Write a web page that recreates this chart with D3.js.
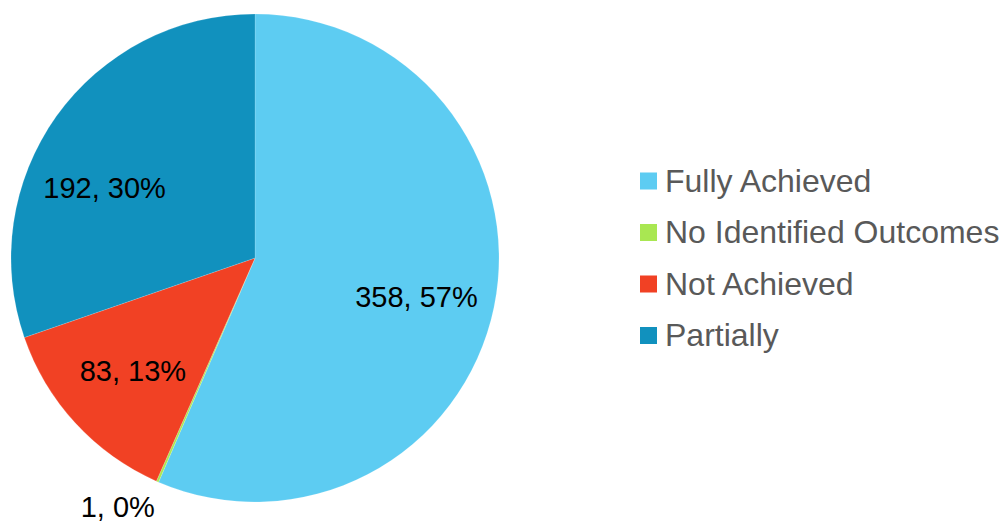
<!DOCTYPE html>
<html>
<head>
<meta charset="utf-8">
<script src="https://cdn.jsdelivr.net/npm/d3@7"></script>
<style>
  html, body { margin: 0; padding: 0; background: #fff; }
  svg { display: block; font-family: "Liberation Sans", Arial, sans-serif; }
</style>
</head>
<body>
<svg id="chart" width="1001" height="522"></svg>
<script>
// Outcome categories, counts and their shown percentages
const categories = ["Fully Achieved", "No Identified Outcomes", "Not Achieved", "Partially"];
const counts = [358, 1, 83, 192];
const percents = [57, 0, 13, 30];
const colors = ["#5DCCF2", "#A9E752", "#F14124", "#1191BE"];

const svg = d3.select("#chart");
const cx = 255, cy = 258, radius = 244;
const total = d3.sum(counts);

const data = categories.map((c, i) => ({ name: c, value: counts[i], pct: percents[i], color: colors[i] }));

const pie = d3.pie().value(d => d.value).sort(null);
const arcs = pie(data);
const arc = d3.arc().innerRadius(0).outerRadius(radius);

const g = svg.append("g").attr("transform", `translate(${cx},${cy})`);

g.selectAll("path.slice")
  .data(arcs)
  .join("path")
  .attr("class", "slice")
  .attr("d", arc)
  .attr("fill", d => d.data.color)
  .attr("stroke", "#ffffff")
  .attr("stroke-opacity", 0.25)
  .attr("stroke-width", 0.6);

// Data labels ("value, percent"). Large slices are labelled inside;
// very small slices get an outside label.
const insideR = radius * 0.68, outsideR = radius * 1.162;
const angleNudge = { "Fully Achieved": 0.03, "Partially": -0.183, "No Identified Outcomes": 0.094 };

arcs.forEach(d => {
  const name = d.data.name;
  const small = d.data.value / total < 0.02;
  const mid = (d.startAngle + d.endAngle) / 2 + (angleNudge[name] || 0);
  const r = small ? outsideR : insideR;
  g.append("text")
    .attr("x", Math.sin(mid) * r)
    .attr("y", -Math.cos(mid) * r)
    .attr("text-anchor", "middle")
    .attr("dy", "0.36em")
    .attr("font-size", 29)
    .attr("fill", "#000")
    .text(`${d.data.value}, ${d.data.pct}%`);
});

// Legend
const legend = svg.append("g").attr("transform", "translate(640,181)");
const rowStep = 51.5;
const items = legend.selectAll("g.item")
  .data(data)
  .join("g")
  .attr("class", "item")
  .attr("transform", (d, i) => `translate(0,${i * rowStep})`);

items.append("rect")
  .attr("x", 0)
  .attr("y", -8.5)
  .attr("width", 17)
  .attr("height", 17)
  .attr("fill", d => d.color);

items.append("text")
  .attr("x", 25)
  .attr("y", 10.8)
  .attr("font-size", 32)
  .attr("fill", "#595959")
  .text(d => d.name);
</script>
</body>
</html>
